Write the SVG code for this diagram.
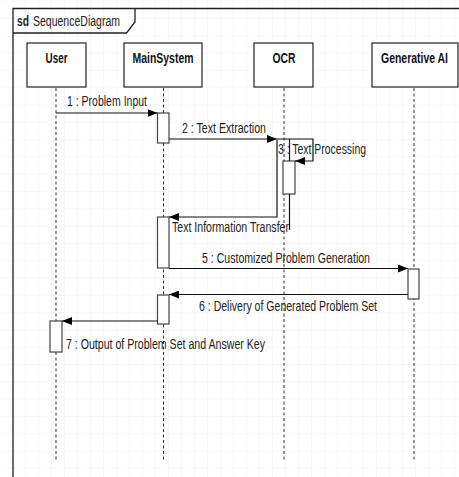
<svg xmlns="http://www.w3.org/2000/svg" width="459" height="477" viewBox="0 0 459 477">
  <defs>
    <pattern id="grid" x="0" y="1.7" width="13" height="17.3" patternUnits="userSpaceOnUse">
      <path d="M13 0V17.3M0 17.3H13" fill="none" stroke="#f1f1f1" stroke-width="1"/>
    </pattern>
    <marker id="arrow" viewBox="0 0 10 8" refX="10" refY="4" markerWidth="10" markerHeight="8" markerUnits="userSpaceOnUse" orient="auto">
      <path d="M0 0L10 4L0 8Z" fill="#000"/>
    </marker>
    <style>
      .frame { fill: none; stroke: #222; stroke-width: 1.3; }
      .head { fill: #fff; stroke: #222; stroke-width: 1.2; }
      .headtxt { font-family: "Liberation Sans Narrow", "Liberation Sans", Arial, sans-serif; font-size: 15px; font-weight: bold; fill: #111; text-anchor: middle; }
      .life { stroke: #333; stroke-width: 1; stroke-dasharray: 3 2.5; fill: none; }
      .act { fill: #fff; stroke: #444; stroke-width: 1.2; }
      .msg { fill: none; stroke: #111; stroke-width: 1.2; }
      .lbl { font-family: "Liberation Sans Narrow", "Liberation Sans", Arial, sans-serif; font-size: 14px; fill: #222; }
    </style>
  </defs>

  <!-- background with light grid -->
  <rect width="459" height="477" fill="#fff"/>
  <rect width="459" height="477" fill="url(#grid)"/>

  <!-- diagram frame and name tab -->
  <g id="frame">
    <path class="frame" d="M13 477V8.5H459"/>
    <path class="frame" d="M13 33H126.5L135 22V8.5"/>
    <text x="17" y="26" class="lbl" font-weight="bold" textLength="12" lengthAdjust="spacingAndGlyphs">sd</text>
    <text x="33" y="26" class="lbl" textLength="87" lengthAdjust="spacingAndGlyphs">SequenceDiagram</text>
  </g>

  <!-- lifelines -->
  <g id="user">
    <rect class="head" x="27" y="43" width="59" height="44"/>
    <text class="headtxt" x="56.5" y="63" textLength="22" lengthAdjust="spacingAndGlyphs">User</text>
    <line class="life" x1="56" y1="88" x2="56" y2="460"/>
  </g>
  <g id="mainsystem">
    <rect class="head" x="124" y="43" width="78" height="44"/>
    <text class="headtxt" x="163" y="63" textLength="61" lengthAdjust="spacingAndGlyphs">MainSystem</text>
    <line class="life" x1="163.5" y1="88" x2="163.5" y2="460"/>
  </g>
  <g id="ocr">
    <rect class="head" x="254" y="43" width="59" height="44"/>
    <text class="headtxt" x="284" y="63" textLength="23" lengthAdjust="spacingAndGlyphs">OCR</text>
    <line class="life" x1="284" y1="88" x2="284" y2="460"/>
  </g>
  <g id="generative-ai">
    <rect class="head" x="372" y="43" width="86" height="44"/>
    <text class="headtxt" x="414.5" y="63" textLength="67" lengthAdjust="spacingAndGlyphs">Generative AI</text>
    <line class="life" x1="414" y1="88" x2="414" y2="460"/>
  </g>

  <!-- activation bars -->
  <g id="activations">
    <rect class="act" x="157.5" y="113" width="11.5" height="30"/>
    <rect class="act" x="283" y="161" width="12" height="33"/>
    <rect class="act" x="157.5" y="217" width="11.5" height="51"/>
    <rect class="act" x="408" y="269" width="11" height="30"/>
    <rect class="act" x="157.5" y="295" width="11.5" height="29"/>
    <rect class="act" x="50" y="321" width="12" height="31"/>
  </g>

  <!-- messages -->
  <g id="connectors">
    <line class="msg" x1="56" y1="113" x2="157.5" y2="113" marker-end="url(#arrow)"/>
    <line class="msg" x1="169" y1="139" x2="277" y2="139" marker-end="url(#arrow)"/>
    <polyline class="msg" points="277,139 313,139 313,161 295,161" marker-end="url(#arrow)"/>
    <line class="msg" x1="289.5" y1="139" x2="289.5" y2="161"/>
    <line class="msg" x1="289.5" y1="194" x2="289.5" y2="230"/>
    <polyline class="msg" points="277,140 277,217 169,217" marker-end="url(#arrow)"/>
    <line class="msg" x1="169" y1="268.5" x2="408" y2="268.5" marker-end="url(#arrow)"/>
    <line class="msg" x1="408" y1="294.5" x2="169" y2="294.5" marker-end="url(#arrow)"/>
    <line class="msg" x1="157.5" y1="321" x2="62" y2="321" marker-end="url(#arrow)"/>
  </g>

  <!-- message labels -->
  <g id="labels">
    <text class="lbl" x="67" y="106" textLength="80" lengthAdjust="spacingAndGlyphs">1 : Problem Input</text>
    <text class="lbl" x="182" y="132.5" textLength="84" lengthAdjust="spacingAndGlyphs">2 : Text Extraction</text>
    <text class="lbl" x="278" y="153.5" textLength="88" lengthAdjust="spacingAndGlyphs">3 : Text Processing</text>
    <text class="lbl" x="172" y="231.5" textLength="117" lengthAdjust="spacingAndGlyphs">Text Information Transfer</text>
    <text class="lbl" x="202" y="262.5" textLength="168" lengthAdjust="spacingAndGlyphs">5 : Customized Problem Generation</text>
    <text class="lbl" x="199" y="310.5" textLength="178" lengthAdjust="spacingAndGlyphs">6 : Delivery of Generated Problem Set</text>
    <text class="lbl" x="66" y="348.5" textLength="199" lengthAdjust="spacingAndGlyphs">7 : Output of Problem Set and Answer Key</text>
  </g>
</svg>
